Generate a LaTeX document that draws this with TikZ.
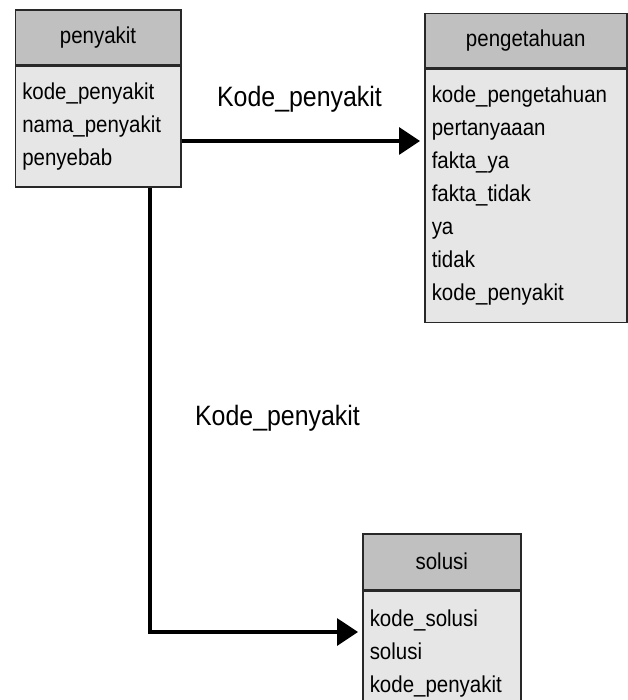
\documentclass[tikz,border=0pt]{standalone}
\usepackage{fontspec}
\setmainfont{Liberation Sans}[FakeStretch=0.89]
\usepackage{tikz}
\usetikzlibrary{positioning,arrows.meta,calc}
\definecolor{boxline}{RGB}{40,40,40}
\definecolor{headgray}{RGB}{192,192,192}
\definecolor{bodygray}{RGB}{230,230,230}
\tikzset{every picture/.style={line width=0.75pt}}
\tikzset{
  tblhead/.style={draw=boxline, line width=1.5pt, fill=headgray, anchor=north west,
    inner sep=0pt, font=\fontsize{23}{33}\selectfont},
  tblbody/.style={draw=boxline, line width=1.5pt, fill=bodygray, anchor=north west,
    inner xsep=7pt, inner ysep=0pt, align=left, font=\fontsize{23}{33}\selectfont},
  relarrow/.style={line width=3.2pt, -{Triangle[length=21pt,width=27pt]}, shorten >=4pt},
  rellabel/.style={font=\fontsize{28}{33}\selectfont, inner sep=0pt}
}

\begin{document}
\begin{tikzpicture}[x=1pt,y=1pt,yscale=-1,xscale=1]

\useasboundingbox (0,0) rectangle (627,700);

%Table: penyakit
\node [tblhead, minimum width=165.5, minimum height=54.5] (penyakit) at (14.5,9.5) {penyakit};
\node [tblbody, text width=151.5, minimum height=121] (penyakitBody) at (penyakit.south west)
  {kode\_penyakit\\nama\_penyakit\\penyebab};

%Table: pengetahuan
\node [tblhead, minimum width=202, minimum height=54] (pengetahuan) at (424,13) {pengetahuan};
\node [tblbody, text width=188, minimum height=253] (pengetahuanBody) at (pengetahuan.south west)
  {kode\_pengetahuan\\pertanyaaan\\fakta\_ya\\fakta\_tidak\\ya\\tidak\\kode\_penyakit};

%Table: solusi
\node [tblhead, minimum width=158, minimum height=56] (solusi) at (362,533) {solusi};
\node [tblbody, text width=144, minimum height=125] (solusiBody) at (solusi.south west)
  {kode\_solusi\\solusi\\kode\_penyakit};

%Relations
\coordinate (relOne) at (300,141);
\coordinate (relTwo) at (150,632);
\draw [relarrow] (penyakitBody.east |- relOne) -- (pengetahuanBody.west |- relOne);
\draw [relarrow] (penyakitBody.south -| relTwo) |- (solusiBody.west |- relTwo);

% Text Node
\node [rellabel] (labelOne) at (299.5,99) {Kode\_penyakit};
% Text Node
\node [rellabel] (labelTwo) at (277.5,418) {Kode\_penyakit};

\end{tikzpicture}
\end{document}
